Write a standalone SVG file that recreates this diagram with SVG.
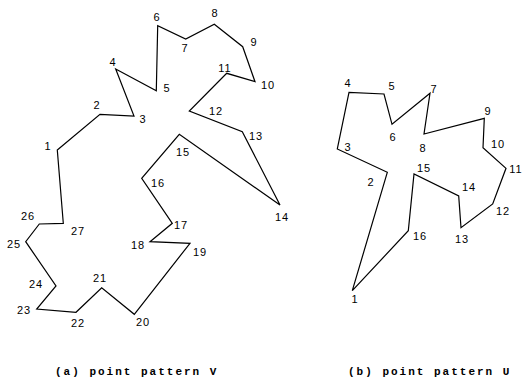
<svg xmlns="http://www.w3.org/2000/svg" width="522" height="392" viewBox="0 0 522 392">
<style>
.bg{fill:#fff}
.edge{fill:none;stroke:#000;stroke-width:1.2;stroke-linejoin:miter}
.lbl{font-family:"Liberation Sans","DejaVu Sans",sans-serif;font-size:11px;letter-spacing:1px;text-anchor:middle;fill:#000}
.cap{font-family:"Liberation Mono","DejaVu Sans Mono",monospace;font-size:11px;font-weight:bold;letter-spacing:2px;fill:#000}
</style>
<rect class="bg" x="0" y="0" width="522" height="392"/>
<g id="connectors">
<polygon id="pattern-V" class="edge" points="57.3,150 100,114.3 134,116 115.7,69 156.3,90.7 157.7,25.7 185.7,39 214.3,24.3 242.7,46.7 255,81.7 226.7,73.3 189.3,111 242.3,131.7 280,205 179.3,134.3 141.7,178.3 172.3,223.3 150,241.7 190,243.3 134.3,314.3 101.7,287.7 76,312.3 36.7,309 56,286 25.7,241.7 39.3,224 63.3,223.3"/>
<polygon id="pattern-U" class="edge" points="352.3,290.7 387.3,172.3 337.3,149 349,92.3 384,94 392,124.3 430,93.3 424,134 484.3,118.3 483,147.7 506,168.3 492.7,204 461,227.7 458.7,196 414,174 408.3,230.7"/>
</g>
<g id="V-nodes">
<g id="v1"><text class="lbl" x="48" y="150">1</text></g>
<g id="v2"><text class="lbl" x="97" y="109">2</text></g>
<g id="v3"><text class="lbl" x="143" y="123">3</text></g>
<g id="v4"><text class="lbl" x="113" y="66">4</text></g>
<g id="v5"><text class="lbl" x="167" y="92">5</text></g>
<g id="v6"><text class="lbl" x="157" y="21">6</text></g>
<g id="v7"><text class="lbl" x="185" y="52">7</text></g>
<g id="v8"><text class="lbl" x="215" y="17">8</text></g>
<g id="v9"><text class="lbl" x="254" y="46">9</text></g>
<g id="v10"><text class="lbl" x="268" y="89">10</text></g>
<g id="v11"><text class="lbl" x="225" y="72">11</text></g>
<g id="v12"><text class="lbl" x="216" y="115">12</text></g>
<g id="v13"><text class="lbl" x="256" y="140">13</text></g>
<g id="v14"><text class="lbl" x="282" y="221">14</text></g>
<g id="v15"><text class="lbl" x="183" y="156">15</text></g>
<g id="v16"><text class="lbl" x="158" y="187">16</text></g>
<g id="v17"><text class="lbl" x="181" y="229">17</text></g>
<g id="v18"><text class="lbl" x="138" y="249">18</text></g>
<g id="v19"><text class="lbl" x="200" y="256">19</text></g>
<g id="v20"><text class="lbl" x="143" y="326">20</text></g>
<g id="v21"><text class="lbl" x="100" y="282">21</text></g>
<g id="v22"><text class="lbl" x="78" y="327">22</text></g>
<g id="v23"><text class="lbl" x="24" y="314">23</text></g>
<g id="v24"><text class="lbl" x="36" y="288">24</text></g>
<g id="v25"><text class="lbl" x="14" y="248">25</text></g>
<g id="v26"><text class="lbl" x="28" y="220">26</text></g>
<g id="v27"><text class="lbl" x="78" y="235">27</text></g>
</g>
<g id="U-nodes">
<g id="u1"><text class="lbl" x="355" y="303">1</text></g>
<g id="u2"><text class="lbl" x="371" y="186">2</text></g>
<g id="u3"><text class="lbl" x="348" y="151">3</text></g>
<g id="u4"><text class="lbl" x="348" y="87">4</text></g>
<g id="u5"><text class="lbl" x="392" y="90">5</text></g>
<g id="u6"><text class="lbl" x="393" y="141">6</text></g>
<g id="u7"><text class="lbl" x="434" y="93">7</text></g>
<g id="u8"><text class="lbl" x="423" y="152">8</text></g>
<g id="u9"><text class="lbl" x="488" y="115">9</text></g>
<g id="u10"><text class="lbl" x="498" y="148">10</text></g>
<g id="u11"><text class="lbl" x="516" y="173">11</text></g>
<g id="u12"><text class="lbl" x="503" y="215">12</text></g>
<g id="u13"><text class="lbl" x="462" y="243">13</text></g>
<g id="u14"><text class="lbl" x="469" y="191">14</text></g>
<g id="u15"><text class="lbl" x="424" y="172">15</text></g>
<g id="u16"><text class="lbl" x="420" y="240">16</text></g>
</g>
<g id="captions">
<text class="cap" x="55" y="375">(a) point pattern V</text>
<text class="cap" x="348" y="375">(b) point pattern U</text>
</g>
</svg>
